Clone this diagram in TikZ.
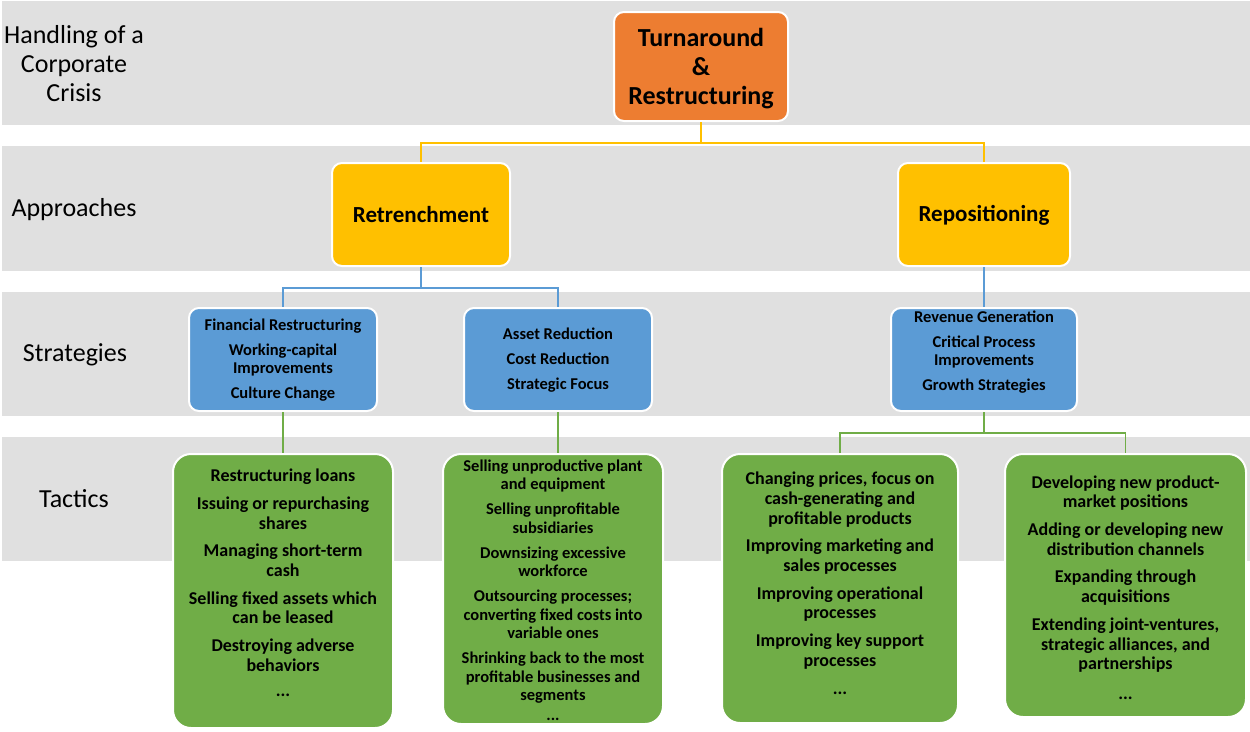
\documentclass[tikz,border=0pt]{standalone}
\usepackage{fontspec}
\setmainfont{Carlito}
\definecolor{bandgray}{HTML}{E0E0E0}
\definecolor{cOrange}{HTML}{ED7D31}
\definecolor{cYellow}{HTML}{FFC000}
\definecolor{cBlue}{HTML}{5B9BD5}
\definecolor{cGreen}{HTML}{70AD47}
\begin{document}
\begin{tikzpicture}[x=1pt,y=-1pt,
  band/.style={fill=bandgray},
  rowlabel/.style={align=center,font=\fontsize{26}{29}\selectfont},
  box/.style={draw=white,line width=2pt,inner sep=0pt},
  topbox/.style={box,fill=cOrange,rounded corners=10pt},
  apbox/.style={box,fill=cYellow,rounded corners=10pt},
  stbox/.style={box,fill=cBlue,rounded corners=10pt},
  tabox/.style={box,fill=cGreen,rounded corners=18pt},
  bigtxt/.style={align=center,font=\bfseries\fontsize{26}{29}\selectfont},
  aptxt/.style={align=center,font=\bfseries\fontsize{23}{27}\selectfont},
  sttxt/.style={align=center,font=\bfseries\fontsize{16.5}{18}\selectfont},
  tatxt/.style={align=center,font=\bfseries\fontsize{18}{19.7}\selectfont},
  tbtxt/.style={align=center,font=\bfseries\fontsize{16.5}{18.5}\selectfont},
  yconn/.style={draw=cYellow,line width=1.5pt},
  bconn/.style={draw=cBlue,line width=1.5pt},
  gconn/.style={draw=cGreen,line width=1.5pt}]
\useasboundingbox (0,0) rectangle (1250,731);

% background bands
\fill[band] (2,1) rectangle (1250,125);
\fill[band] (2,146) rectangle (1250,271);
\fill[band] (2,292) rectangle (1250,416);
\fill[band] (2,437) rectangle (1250,561);

% row labels
\node[rowlabel] (lblcrisis) at (74,63.5) {Handling of a\\Corporate\\Crisis};
\node[rowlabel] (lblappr) at (74,210) {Approaches};
\node[rowlabel] (lblstrat) at (75,354.5) {Strategies};
\node[rowlabel] (lbltact) at (74,498.5) {Tactics};

% level 1
\node[topbox,minimum width=174,minimum height=109] (top) at (701,66.5) {};
\node[bigtxt] (toptxt) at (701,68.5) {Turnaround\\\&\\Restructuring};

% level 2
\node[apbox,minimum width=178,minimum height=103] (retr) at (421,214.5) {};
\node[aptxt] (retrtxt) at (421,214.5) {Retrenchment};
\node[apbox,minimum width=172,minimum height=103] (repo) at (984,214.5) {};
\node[aptxt] (repotxt) at (984,215.5) {Repositioning};

% level 3
\node[stbox,minimum width=188,minimum height=103] (fin) at (283,359.5) {};
\node[sttxt] (fintxt) at (283,360.5) {Financial Restructuring\\[7pt]Working-capital\\Improvements\\[7pt]Culture Change};
\node[stbox,minimum width=188,minimum height=103] (asset) at (558,359.5) {};
\node[sttxt] (assettxt) at (558,360.5) {Asset Reduction\\[7pt]Cost Reduction\\[7pt]Strategic Focus};
\node[stbox,minimum width=186,minimum height=103] (rev) at (984,359.5) {};
\node[sttxt] (revtxt) at (984,352.5) {Revenue Generation\\[7pt]Critical Process\\Improvements\\[7pt]Growth Strategies};

% level 4
\node[tabox,minimum width=220,minimum height=274] (ta) at (283,591) {};
\node[tatxt] (tatxt1) at (283,583) {Restructuring loans\\[8pt]Issuing or repurchasing\\shares\\[8pt]Managing short-term\\cash\\[8pt]Selling fixed assets which\\can be leased\\[8pt]Destroying adverse\\behaviors\\[6pt]...};
\node[tabox,minimum width=220,minimum height=270] (tb) at (553,589) {};
\node[tbtxt] (tbtxt1) at (553,590) {Selling unproductive plant\\and equipment\\[6.5pt]Selling unprofitable\\subsidiaries\\[6.5pt]Downsizing excessive\\workforce\\[6.5pt]Outsourcing processes;\\converting fixed costs into\\variable ones\\[6.5pt]Shrinking back to the most\\profitable businesses and\\segments\\[1pt]...};
\node[tabox,minimum width=236,minimum height=269] (tc) at (840,588.5) {};
\node[tatxt] (tctxt1) at (840,583.5) {Changing prices, focus on\\cash-generating and\\profitable products\\[8pt]Improving marketing and\\sales processes\\[8pt]Improving operational\\processes\\[8pt]Improving key support\\processes\\[9pt]...};
\node[tabox,minimum width=241,minimum height=263] (td) at (1125.5,585.5) {};
\node[tatxt] (tdtxt1) at (1125.5,587.5) {Developing new product-\\market positions\\[8pt]Adding or developing new\\distribution channels\\[8pt]Expanding through\\acquisitions\\[8pt]Extending joint-ventures,\\strategic alliances, and\\partnerships\\[10pt]...};

% connectors
\draw[yconn] (top.south) -- ++(0,21) -| (retr.north);
\draw[yconn] (top.south) -- ++(0,21) -| (repo.north);
\draw[bconn] (retr.south) -- ++(0,21) -| (fin.north);
\draw[bconn] (retr.south) -- ++(0,21) -| (asset.north);
\draw[bconn] (repo.south) -- (rev.north);
\draw[gconn] (fin.south) -- (ta.north);
\draw[gconn] (asset.south) -- (asset.south |- tb.north);
\draw[gconn] (rev.south) -- ++(0,21) -| (tc.north);
\draw[gconn] (rev.south) -- ++(0,21) -| (td.north);
\end{tikzpicture}
\end{document}
